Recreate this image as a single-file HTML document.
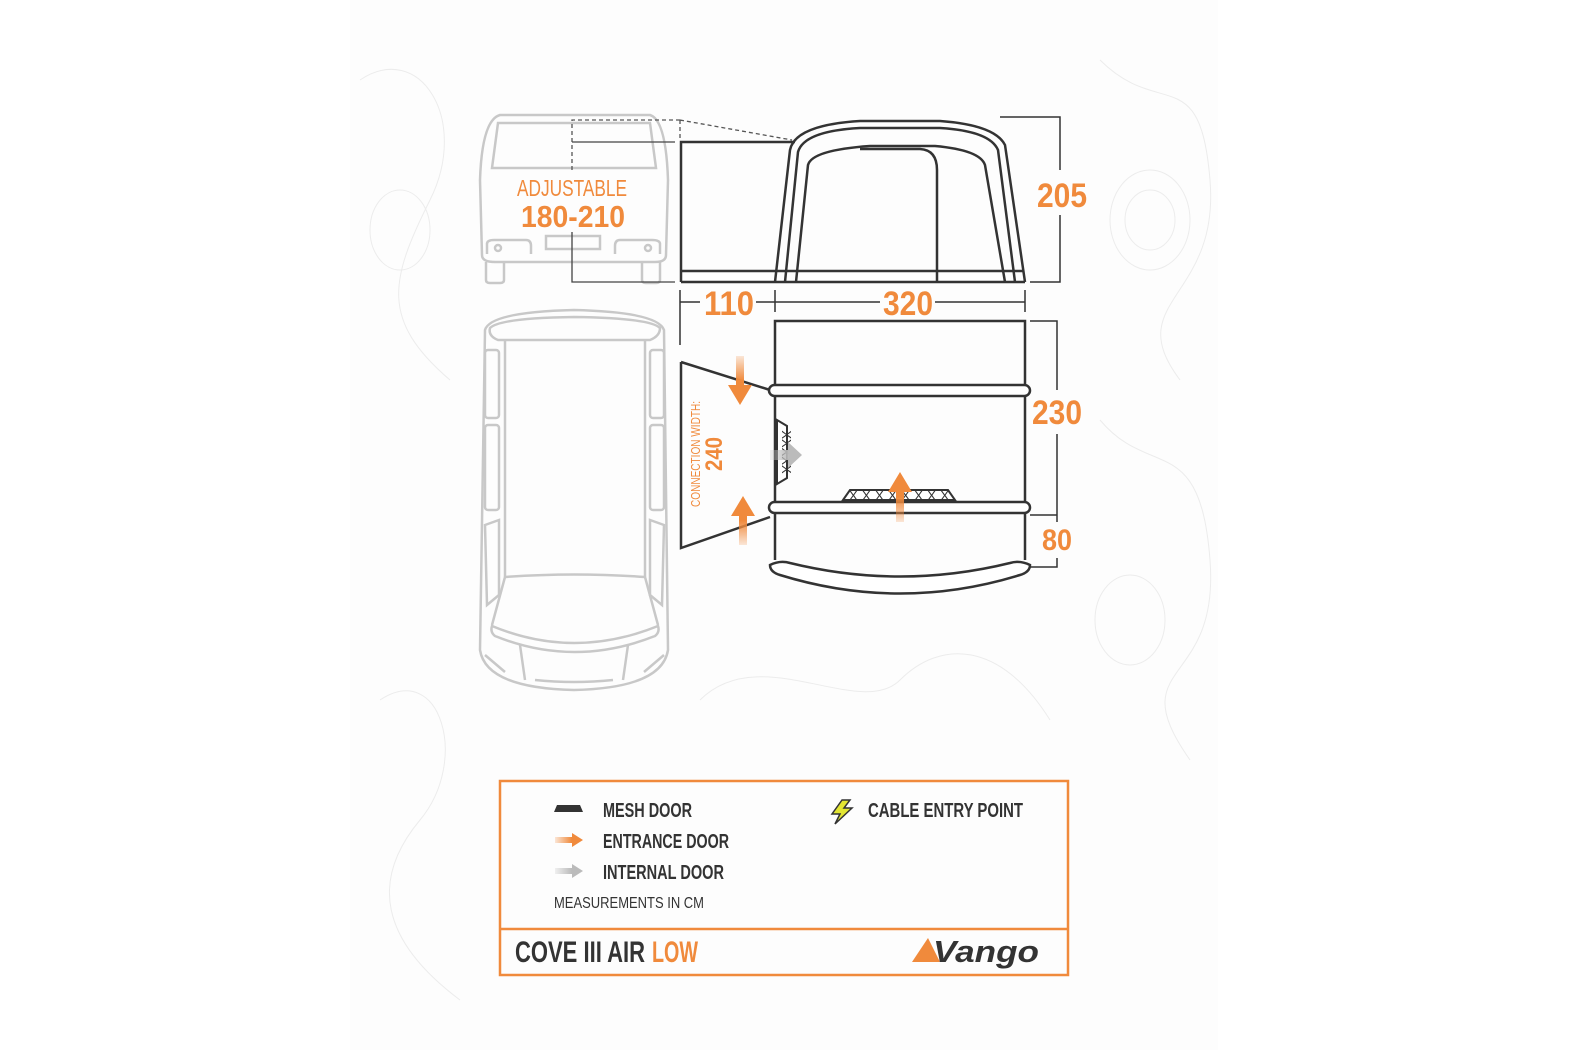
<!DOCTYPE html>
<html><head><meta charset="utf-8"><style>
html,body{margin:0;padding:0;background:#fff;}
svg{display:block}
text{font-family:"Liberation Sans Narrow","Liberation Sans",sans-serif;}
</style></head><body>
<svg width="1575" height="1050" viewBox="0 0 1575 1050" xmlns="http://www.w3.org/2000/svg">
<rect x="0" y="0" width="1575" height="1050" fill="#fff"/>
<rect x="350" y="0" width="868" height="1050" fill="#fdfdfd"/>
<g fill="none" stroke="#ececec" stroke-width="1">
<path d="M360 80 C420 40 470 120 430 200 S380 320 450 380"/>
<path d="M1100 60 C1160 120 1200 60 1210 180 S1120 300 1180 380"/>
<path d="M1100 420 C1150 480 1200 430 1210 560 S1120 660 1190 760"/>
<path d="M380 700 C440 660 470 760 420 820 S380 940 460 1000"/>
<path d="M700 700 C760 640 860 720 900 680 S1000 640 1050 720"/>
<ellipse cx="1150" cy="220" rx="40" ry="50"/>
<ellipse cx="1150" cy="220" rx="25" ry="30"/>
<ellipse cx="400" cy="230" rx="30" ry="40"/>
<ellipse cx="1130" cy="620" rx="35" ry="45"/>
</g>

<!-- van rear -->
<g fill="none" stroke="#c8c8c8" stroke-width="2.5">
<path d="M482 255 L480 180 Q482 120 500 115 L650 115 Q666 120 668 180 L666 255 Q666 262 655 262 L495 262 Q482 262 482 255Z"/>
<path d="M492 168 L498 123 L650 123 L656 168 Z"/>
<rect x="546" y="236" width="54" height="13"/>
<path d="M487 254 L487 244 Q487 240 494 240 L526 240 Q531 240 531 246 L531 254"/>
<path d="M615 254 L615 246 Q615 240 620 240 L652 240 Q660 240 660 244 L660 254"/>
<circle cx="498" cy="248" r="3"/><circle cx="648" cy="248" r="3"/>
<path d="M486 262 L486 280 Q486 283 490 283 L500 283 Q504 283 504 280 L504 262"/>
<path d="M642 262 L642 280 Q642 283 646 283 L656 283 Q660 283 660 280 L660 262"/>
</g>
<!-- van top -->
<g fill="none" stroke="#c8c8c8" stroke-width="2.5">
<path d="M485 330 Q490 312 574 310 Q658 312 664 330 L668 650 Q662 688 574 690 Q486 688 480 650 Z"/>
<path d="M490 328 Q500 318 574 317 Q650 318 660 328 Q660 336 650 340 L498 340 Q488 336 490 328Z"/>
<rect x="485" y="350" width="14" height="68" rx="3"/><rect x="485" y="425" width="14" height="85" rx="3"/>
<rect x="650" y="350" width="14" height="68" rx="3"/><rect x="650" y="425" width="14" height="85" rx="3"/>
<path d="M485 525 L499 520 L499 595 L487 605 Z"/><path d="M664 525 L650 520 L650 595 L662 605 Z"/>
<path d="M505 340 L505 577 M645 340 L645 577"/>
<path d="M505 577 Q574 572 645 577"/>
<path d="M505 577 L492 625 M645 577 L658 625"/>
<path d="M492 626 Q574 660 658 626 Q660 632 655 636 Q574 668 495 636 Q490 632 492 626Z"/>
<path d="M520 645 L525 680 M628 645 L623 680"/>
<path d="M535 680 Q574 684 613 680"/>
<path d="M485 655 L505 672 M664 655 L644 672"/>
</g>

<!-- adjustable -->
<path d="M680 120 L572 120 L572 170 M680 120 L680 140 M680 120 L792 140" fill="none" stroke="#555" stroke-width="1.3" stroke-dasharray="4 3"/>
<path d="M572 142 L675 142 M572 232 L572 282 L675 282" fill="none" stroke="#444" stroke-width="1.3"/>
<text x="572" y="196" text-anchor="middle" font-size="23" fill="#f08a3c" textLength="110" lengthAdjust="spacingAndGlyphs">ADJUSTABLE</text>
<text x="573" y="227" text-anchor="middle" font-size="31" font-weight="bold" fill="#f08a3c" textLength="104" lengthAdjust="spacingAndGlyphs">180-210</text>

<!-- tent side -->
<g fill="none" stroke="#333" stroke-width="2.5">
<path d="M681 282 L681 142 L795 142"/>
<path d="M681 282 L1025 282"/>
<path d="M681 271 L1024 271"/>
<path d="M775 282 L790 150 Q795 125 860 121 L940 121 Q995 125 1005 145 L1025 282"/>
<path d="M785 282 L798 152 Q804 131 860 128 L940 128 Q990 131 998 150 L1015 282"/>
<path d="M796 282 L808 165 Q812 150 870 146 L935 146 Q980 150 985 165 L1005 282"/>
<path d="M860 149 L920 149 Q937 150 937 170 L937 282"/>
</g>
<path d="M1000 117 L1060 117 L1060 170 M1060 215 L1060 282 L1030 282" fill="none" stroke="#333" stroke-width="1.5"/>
<text x="1062" y="207" text-anchor="middle" font-size="34" font-weight="bold" fill="#f08a3c" textLength="50" lengthAdjust="spacingAndGlyphs">205</text>

<!-- width dims -->
<g stroke="#333" stroke-width="1.5" fill="none">
<path d="M680 290 L680 345 M775 290 L775 312 M1025 290 L1025 312"/>
<path d="M680 302 L700 302 M756 302 L775 302 M775 302 L880 302 M935 302 L1025 302"/>
</g>
<text x="729" y="315" text-anchor="middle" font-size="34" font-weight="bold" fill="#f08a3c" textLength="50" lengthAdjust="spacingAndGlyphs">110</text>
<text x="908" y="315" text-anchor="middle" font-size="34" font-weight="bold" fill="#f08a3c" textLength="50" lengthAdjust="spacingAndGlyphs">320</text>

<!-- plan -->
<g fill="none" stroke="#333" stroke-width="2.5">
<path d="M775 385 L775 321 L1025 321 L1025 385"/>
<path d="M775 397 L775 502 M1025 397 L1025 502"/>
<path d="M775 512 L775 560 M1025 512 L1025 560"/>
<rect x="769" y="385" width="261" height="11" rx="5.5" fill="#fff"/>
<rect x="769" y="502" width="261" height="11" rx="5.5" fill="#fff"/>
<path d="M770 565 Q780 560 790 563 Q900 590 1010 563 Q1020 560 1030 565 Q1030 572 1020 575 Q900 612 780 575 Q770 572 770 565Z" fill="#fff"/>
<path d="M681 362 L770 390 M681 362 L681 548 L770 517"/>
</g>
<path d="M777 420 L787 426 L787 478 L777 484 Z" fill="#fff" stroke="#333" stroke-width="2"/>
<text x="782" y="452" text-anchor="middle" font-size="13" fill="#333" transform="rotate(90 782 452)">XXXXX</text>
<path d="M843 500 L850 490 L948 490 L955 500 Z" fill="#fff" stroke="#333" stroke-width="2"/>
<text x="899" y="500" text-anchor="middle" font-size="13" fill="#333" textLength="100" lengthAdjust="spacing">XXXXXXXX</text>
<path d="M1030 321 L1057 321 L1057 567 L1030 567 M1030 515 L1057 515" fill="none" stroke="#333" stroke-width="1.5"/>
<rect x="1035" y="390" width="44" height="44" fill="#fdfdfd"/>
<rect x="1040" y="522" width="34" height="36" fill="#fdfdfd"/>
<text x="1057" y="424" text-anchor="middle" font-size="34" font-weight="bold" fill="#f08a3c" textLength="50" lengthAdjust="spacingAndGlyphs">230</text>
<text x="1057" y="550" text-anchor="middle" font-size="30" font-weight="bold" fill="#f08a3c" textLength="30" lengthAdjust="spacingAndGlyphs">80</text>

<defs>
<linearGradient id="gd" x1="0" y1="0" x2="0" y2="1"><stop offset="0" stop-color="#f08a3c" stop-opacity="0.2"/><stop offset="0.5" stop-color="#f08a3c"/></linearGradient>
<linearGradient id="gu" x1="0" y1="1" x2="0" y2="0"><stop offset="0" stop-color="#f08a3c" stop-opacity="0.2"/><stop offset="0.5" stop-color="#f08a3c"/></linearGradient>
<linearGradient id="gr" x1="0" y1="0" x2="1" y2="0"><stop offset="0" stop-color="#f08a3c" stop-opacity="0.2"/><stop offset="0.6" stop-color="#f08a3c"/></linearGradient>
<linearGradient id="gg" x1="0" y1="0" x2="1" y2="0"><stop offset="0" stop-color="#bbb" stop-opacity="0.2"/><stop offset="0.6" stop-color="#bbb"/></linearGradient>
</defs>
<path d="M736 356 L744 356 L744 385 L752 385 L740 405 L728 385 L736 385 Z" fill="url(#gd)"/>
<path d="M739 545 L747 545 L747 516 L755 516 L743 496 L731 516 L739 516 Z" fill="url(#gu)"/>
<path d="M896 522 L904 522 L904 492 L912 492 L900 472 L888 492 L896 492 Z" fill="url(#gu)"/>
<path d="M770 450 L788 450 L788 442 L802 455 L788 468 L788 460 L770 460 Z" fill="url(#gg)"/>
<text x="700" y="454" text-anchor="middle" font-size="13" fill="#f08a3c" transform="rotate(-90 700 454)" textLength="106" lengthAdjust="spacingAndGlyphs">CONNECTION WIDTH:</text>
<text x="722" y="454" text-anchor="middle" font-size="24" font-weight="bold" fill="#f08a3c" transform="rotate(-90 722 454)" textLength="34" lengthAdjust="spacingAndGlyphs">240</text>

<!-- legend -->
<rect x="500" y="781" width="568" height="194" fill="none" stroke="#f08a3c" stroke-width="2.5"/>
<line x1="500" y1="929" x2="1068" y2="929" stroke="#f08a3c" stroke-width="2.5"/>
<path d="M554 812 L557 805 L580 805 L583 812 Z" fill="#333"/>
<path d="M555 837 L572 837 L572 833 L583 840 L572 847 L572 843 L555 843 Z" fill="url(#gr)"/>
<path d="M555 868 L572 868 L572 864 L583 871 L572 878 L572 874 L555 874 Z" fill="url(#gg)"/>
<path d="M842 800 L832 814 L840 814 L835 824 L852 808 L844 808 L850 800 Z" fill="#e3e632" stroke="#333" stroke-width="1.5"/>
<g font-weight="bold" fill="#333" font-size="20">
<text x="603" y="817" textLength="89" lengthAdjust="spacingAndGlyphs">MESH DOOR</text>
<text x="603" y="848" textLength="126" lengthAdjust="spacingAndGlyphs">ENTRANCE DOOR</text>
<text x="603" y="879" textLength="121" lengthAdjust="spacingAndGlyphs">INTERNAL DOOR</text>
<text x="868" y="817" textLength="155" lengthAdjust="spacingAndGlyphs">CABLE ENTRY POINT</text>
</g>
<text x="554" y="908" font-size="16" fill="#333" textLength="150" lengthAdjust="spacingAndGlyphs">MEASUREMENTS IN CM</text>
<text x="515" y="962" font-size="30" font-weight="bold" fill="#333" textLength="130" lengthAdjust="spacingAndGlyphs">COVE III AIR</text>
<text x="652" y="962" font-size="30" font-weight="bold" fill="#f08a3c" textLength="46" lengthAdjust="spacingAndGlyphs">LOW</text>
<path d="M912 962 L928 938 L940 962 Z" fill="#f08a3c"/>
<text x="933" y="962" font-family="Liberation Sans,sans-serif" font-size="31" font-weight="bold" font-style="italic" fill="#333" textLength="106" lengthAdjust="spacingAndGlyphs">Vango</text>
</svg>
</body></html>
